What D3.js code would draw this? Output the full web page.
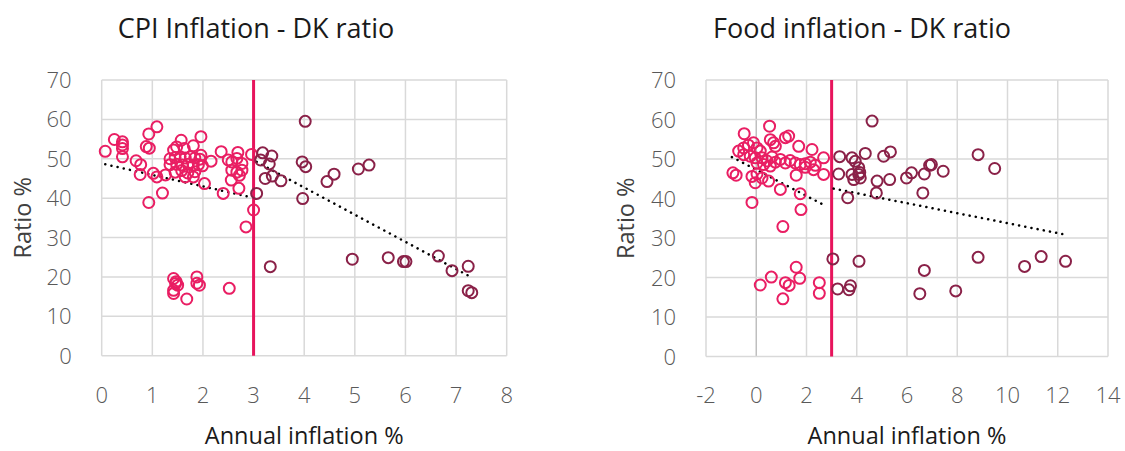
<!DOCTYPE html>
<html>
<head>
<meta charset="utf-8">
<script src="https://cdn.jsdelivr.net/npm/d3@7"></script>
<style>
  body { margin: 0; background: #fff; }
  text { font-family: "Open Sans", "Noto Sans", sans-serif; }
</style>
</head>
<body>
<div id="chart"></div>
<script>
// CPI chart: [annual inflation %, ratio %]
const cpiLow = [
  [0.07, 51.9], [0.25, 54.9], [0.41, 54.3], [0.41, 53.5], [0.41, 52.6], [0.41, 50.5],
  [0.68, 49.5], [0.77, 48.5], [0.76, 46.0], [0.88, 53.1], [0.94, 52.7], [0.93, 56.3],
  [1.09, 58.1], [1.02, 46.3], [1.09, 45.4], [0.93, 38.9], [1.2, 41.3], [1.26, 45.9],
  [1.35, 50.0], [1.45, 50.3], [1.55, 50.5], [1.65, 50.2], [1.75, 50.5], [1.84, 50.2], [1.94, 49.9],
  [1.35, 48.5], [1.48, 48.6], [1.59, 48.4], [1.71, 48.6], [1.81, 48.4], [1.91, 48.5],
  [1.45, 46.6], [1.58, 47.0], [1.70, 46.4], [1.84, 46.7], [1.65, 45.4], [1.81, 45.4],
  [1.42, 52.2], [1.48, 53.0], [1.57, 54.7], [1.63, 52.6], [1.81, 53.3], [1.96, 55.6],
  [1.99, 48.2], [2.03, 43.7], [2.16, 49.4], [1.96, 50.9], [2.36, 51.8],
  [2.50, 49.7], [2.57, 49.2], [2.69, 51.6], [2.67, 50.1], [2.77, 48.8],
  [2.57, 47.1], [2.67, 46.6], [2.72, 45.8], [2.77, 47.1], [2.56, 44.6], [2.71, 42.5],
  [2.40, 41.2], [2.96, 51.1], [3.0, 37.0], [2.85, 32.7],
  [1.42, 19.6], [1.47, 18.8], [1.50, 17.9], [1.42, 16.6], [1.42, 15.8], [1.46, 18.3],
  [1.68, 14.4], [1.88, 20.0], [1.88, 18.4], [1.93, 17.9], [2.52, 17.1]
];
const cpiHigh = [
  [3.18, 51.5], [3.36, 50.7], [3.14, 49.7], [3.31, 48.7], [3.23, 45.0], [3.37, 45.6],
  [3.54, 44.4], [3.06, 41.2], [4.02, 59.5], [3.96, 49.2], [4.03, 48.0], [3.97, 39.9],
  [4.45, 44.2], [4.59, 46.1], [5.07, 47.4], [5.28, 48.4], [3.33, 22.6], [4.95, 24.5],
  [5.66, 24.9], [5.96, 23.9], [6.01, 23.9], [6.65, 25.3], [6.92, 21.6], [7.24, 22.7],
  [7.24, 16.5], [7.31, 16.0]
];
const cpiTrendLow = [[0.07, 48.6], [2.96, 40.2]];
const cpiTrendHigh = [[3.06, 49.2], [7.26, 20.2]];

// Food chart: [annual inflation %, ratio %]
const foodLow = [
  [-0.93, 46.5], [-0.8, 45.9], [-0.48, 56.4], [0.53, 58.3], [-0.7, 52.0], [-0.5, 52.8],
  [-0.31, 53.5], [-0.11, 54.1], [0.03, 52.8], [0.16, 52.0], [-0.5, 51.1], [-0.24, 50.7],
  [-0.04, 50.3], [0.23, 50.3], [0.43, 49.5], [0.63, 50.5], [0.76, 49.2], [0.96, 49.9],
  [1.16, 49.0], [1.35, 49.6], [1.55, 49.0], [1.75, 48.6], [1.95, 48.8], [2.15, 49.2], [2.35, 48.4],
  [0.56, 54.9], [0.69, 54.1], [1.16, 55.4], [1.29, 55.8], [0.76, 53.2], [1.69, 53.2],
  [2.22, 52.4], [2.68, 50.3], [0.03, 49.0], [0.29, 48.6], [0.56, 48.2],
  [-0.17, 45.6], [0.03, 46.2], [0.23, 45.2], [-0.04, 44.0], [0.49, 44.4], [0.96, 42.3],
  [1.59, 45.9], [1.75, 41.2], [1.95, 47.9], [2.28, 47.3], [2.68, 46.1],
  [-0.17, 39.0], [1.78, 37.2], [1.06, 32.9],
  [0.16, 18.1], [0.6, 20.1], [1.06, 14.6], [1.16, 18.7], [1.31, 18.0], [1.59, 22.6],
  [1.73, 19.8], [2.51, 18.7], [2.51, 16.0]
];
const foodHigh = [
  [3.32, 50.6], [3.81, 50.3], [3.94, 49.4], [4.34, 51.4], [4.61, 59.6], [5.07, 50.7],
  [5.34, 51.8], [3.28, 46.2], [3.81, 46.1], [4.08, 46.1], [4.14, 45.2], [3.88, 44.8],
  [4.08, 47.8], [4.12, 46.6], [4.81, 44.4], [5.31, 44.8], [4.78, 41.4], [3.64, 40.2],
  [5.98, 45.2], [6.18, 46.5], [6.69, 46.2], [6.90, 48.4], [6.97, 48.6], [7.44, 46.9],
  [6.63, 41.4], [8.83, 51.1], [9.49, 47.6],
  [3.05, 24.7], [4.09, 24.1], [3.24, 17.1], [3.69, 16.9], [3.75, 17.9], [6.69, 21.8],
  [6.51, 15.9], [7.94, 16.6], [8.83, 25.1], [10.68, 22.8], [11.34, 25.3], [12.31, 24.1]
];
const foodTrendLow = [[-0.97, 50.5], [2.62, 38.6]];
const foodTrendHigh = [[3.08, 42.5], [12.18, 31.0]];

const cpiXTicks = [0, 1, 2, 3, 4, 5, 6, 7, 8];
const foodXTicks = [-2, 0, 2, 4, 6, 8, 10, 12, 14];
const yTicks = [0, 10, 20, 30, 40, 50, 60, 70];
const threshold = 3;

const pink = "#E91E63";
const dark = "#8A2148";
const redLine = "#E7145C";
const gridColor = "#D9D9D9";

const svg = d3.select("#chart").append("svg")
  .attr("width", 1125)
  .attr("height", 451);

function drawPanel(opts) {
  const { left, right, top, bottom, xTicks, title, titleX, yTitleX, low, high, trendLow, trendHigh } = opts;

  const x = d3.scaleLinear().domain(d3.extent(xTicks)).range([left, right]);
  const y = d3.scaleLinear().domain([0, 70]).range([bottom, top]);

  const g = svg.append("g");

  // grid
  g.selectAll(".vgrid").data(xTicks).join("line")
    .attr("x1", d => x(d)).attr("x2", d => x(d))
    .attr("y1", top).attr("y2", bottom)
    .attr("stroke", d => d === 0 && xTicks[0] < 0 ? "#BFBFBF" : gridColor)
    .attr("stroke-width", 1.5);
  g.selectAll(".hgrid").data(yTicks).join("line")
    .attr("x1", left).attr("x2", right)
    .attr("y1", d => y(d)).attr("y2", d => y(d))
    .attr("stroke", gridColor)
    .attr("stroke-width", 1.5);

  // tick labels
  g.selectAll(".xlab").data(xTicks).join("text")
    .attr("x", d => x(d)).attr("y", 403)
    .attr("text-anchor", "middle")
    .attr("font-size", 22).attr("font-weight", 300)
    .attr("fill", "#595959")
    .text(d => d);
  g.selectAll(".ylab").data(yTicks).join("text")
    .attr("x", left - 30).attr("y", d => y(d) + 8)
    .attr("text-anchor", "end")
    .attr("font-size", 22).attr("font-weight", 300)
    .attr("fill", "#595959")
    .text(d => d);

  // threshold line
  g.append("line")
    .attr("x1", x(threshold)).attr("x2", x(threshold))
    .attr("y1", top).attr("y2", bottom)
    .attr("stroke", redLine).attr("stroke-width", 3);

  // trend lines
  const line = d3.line().x(d => x(d[0])).y(d => y(d[1]));
  [trendLow, trendHigh].forEach(t => {
    g.append("path")
      .attr("d", line(t))
      .attr("fill", "none")
      .attr("stroke", "#000")
      .attr("stroke-width", 2.5)
      .attr("stroke-linecap", "round")
      .attr("stroke-dasharray", "0.1 6.2");
  });

  // points
  g.selectAll(".plow").data(low).join("circle")
    .attr("cx", d => x(d[0])).attr("cy", d => y(d[1]))
    .attr("r", 5.5)
    .attr("fill", "none").attr("stroke", pink).attr("stroke-width", 2);
  g.selectAll(".phigh").data(high).join("circle")
    .attr("cx", d => x(d[0])).attr("cy", d => y(d[1]))
    .attr("r", 5.5)
    .attr("fill", "none").attr("stroke", dark).attr("stroke-width", 2);

  // titles
  g.append("text")
    .attr("x", titleX).attr("y", 38)
    .attr("text-anchor", "middle")
    .attr("font-size", 27)
    .attr("fill", "#1a1a1a")
    .text(title);
  g.append("text")
    .attr("x", (left + right) / 2).attr("y", 444)
    .attr("text-anchor", "middle")
    .attr("font-size", 23.5)
    .attr("fill", "#1a1a1a")
    .text("Annual inflation %");
  g.append("text")
    .attr("transform", `translate(${yTitleX},${(top + bottom) / 2}) rotate(-90)`)
    .attr("text-anchor", "middle")
    .attr("font-size", 23.5)
    .attr("fill", "#404040")
    .text("Ratio %");
}

drawPanel({
  left: 101.7, right: 506.7, top: 80, bottom: 355.7,
  xTicks: cpiXTicks, title: "CPI Inflation - DK ratio", titleX: 256, yTitleX: 31,
  low: cpiLow, high: cpiHigh, trendLow: cpiTrendLow, trendHigh: cpiTrendHigh
});
drawPanel({
  left: 706, right: 1108, top: 80, bottom: 356.5,
  xTicks: foodXTicks, title: "Food inflation - DK ratio", titleX: 862, yTitleX: 634,
  low: foodLow, high: foodHigh, trendLow: foodTrendLow, trendHigh: foodTrendHigh
});
</script>
</body>
</html>
